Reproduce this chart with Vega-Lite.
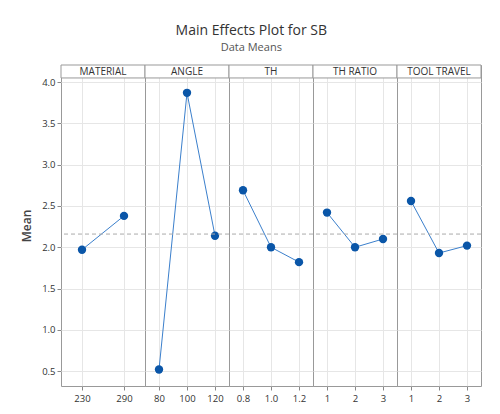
{
  "$schema": "https://vega.github.io/schema/vega-lite/v6.json",
  "padding": {"left": 20, "top": 24, "right": 18, "bottom": 8},
  "background": "white",
  "title": {"text": "Main Effects Plot for SB", "subtitle": "Data Means", "fontSize": 14, "fontWeight": "normal", "font": "Open Sans", "color": "#333", "subtitleFontSize": 11, "subtitleColor": "#555", "subtitleFont": "Open Sans", "anchor": "middle", "offset": 11, "subtitlePadding": 4},
  "data": {"values": [
    {"factor": "MATERIAL", "level": "230", "mean": 1.97, "grand": 2.16},
    {"factor": "MATERIAL", "level": "290", "mean": 2.38, "grand": 2.16},
    {"factor": "ANGLE", "level": "80", "mean": 0.52, "grand": 2.16},
    {"factor": "ANGLE", "level": "100", "mean": 3.87, "grand": 2.16},
    {"factor": "ANGLE", "level": "120", "mean": 2.14, "grand": 2.16},
    {"factor": "TH", "level": "0.8", "mean": 2.69, "grand": 2.16},
    {"factor": "TH", "level": "1.0", "mean": 2.0, "grand": 2.16},
    {"factor": "TH", "level": "1.2", "mean": 1.82, "grand": 2.16},
    {"factor": "TH RATIO", "level": "1", "mean": 2.42, "grand": 2.16},
    {"factor": "TH RATIO", "level": "2", "mean": 2.0, "grand": 2.16},
    {"factor": "TH RATIO", "level": "3", "mean": 2.1, "grand": 2.16},
    {"factor": "TOOL TRAVEL", "level": "1", "mean": 2.56, "grand": 2.16},
    {"factor": "TOOL TRAVEL", "level": "2", "mean": 1.93, "grand": 2.16},
    {"factor": "TOOL TRAVEL", "level": "3", "mean": 2.02, "grand": 2.16}
  ]},
  "facet": {
    "column": {"field": "factor", "type": "nominal", "sort": ["MATERIAL", "ANGLE", "TH", "TH RATIO", "TOOL TRAVEL"],
      "header": {"title": null, "labels": false}}
  },
  "spacing": 0,
  "bounds": "flush",
  "resolve": {"scale": {"x": "independent"}},
  "spec": {
    "width": 84,
    "height": 321,
    "layer": [
      {
        "mark": {"type": "line", "color": "#3b7fcc", "strokeWidth": 1},
        "encoding": {
          "x": {"field": "level", "type": "ordinal", "sort": ["230", "290", "80", "100", "120", "0.8", "1.0", "1.2", "1", "2", "3"], "scale": {"type": "point", "padding": 0.5},
            "axis": {"title": null, "labelAngle": 0, "labelFontSize": 9.5, "labelFont": "Open Sans", "labelColor": "#333", "tickColor": "#888", "tickSize": 4, "domain": false, "grid": true, "gridColor": "#e6e6e6", "labelPadding": 3}},
          "y": {"field": "mean", "type": "quantitative", "scale": {"domain": [0.32, 4.207], "nice": false, "zero": false},
            "axis": {"title": "Mean", "titleFontSize": 12, "titleFont": "Open Sans", "titleFontWeight": 600, "titleColor": "#444", "titlePadding": 8, "values": [0.5, 1.0, 1.5, 2.0, 2.5, 3.0, 3.5, 4.0], "format": ".1f", "labelFontSize": 9.5, "labelFont": "Open Sans", "labelColor": "#333", "tickColor": "#888", "tickSize": 4, "domain": false, "grid": true, "gridColor": "#e6e6e6"}}
        }
      },
      {
        "mark": {"type": "point", "filled": true, "color": "#0a56a8", "size": 70, "opacity": 1},
        "encoding": {
          "x": {"field": "level", "type": "ordinal", "sort": ["230", "290", "80", "100", "120", "0.8", "1.0", "1.2", "1", "2", "3"]},
          "y": {"field": "mean", "type": "quantitative"}
        }
      },
      {
        "mark": {"type": "rule", "color": "#aaaaaa", "strokeDash": [4, 3], "strokeWidth": 1},
        "encoding": {
          "y": {"field": "grand", "aggregate": "mean", "type": "quantitative"}
        }
      },
      {
        "transform": [{"aggregate": [{"op": "count", "as": "n"}], "groupby": ["factor"]}],
        "mark": {"type": "rect", "fill": "white", "stroke": "#999999", "strokeWidth": 1},
        "encoding": {
          "y": {"datum": 4.05, "type": "quantitative"},
          "y2": {"datum": 4.207}
        }
      },
      {
        "transform": [{"aggregate": [{"op": "count", "as": "n"}], "groupby": ["factor"]}],
        "mark": {"type": "text", "font": "Open Sans", "fontSize": 10, "color": "#333", "baseline": "middle", "align": "center"},
        "encoding": {
          "y": {"datum": 4.128, "type": "quantitative"},
          "text": {"field": "factor", "type": "nominal"}
        }
      }
    ]
  },
  "config": {
    "view": {"stroke": "#999999", "strokeWidth": 1}
  }
}
